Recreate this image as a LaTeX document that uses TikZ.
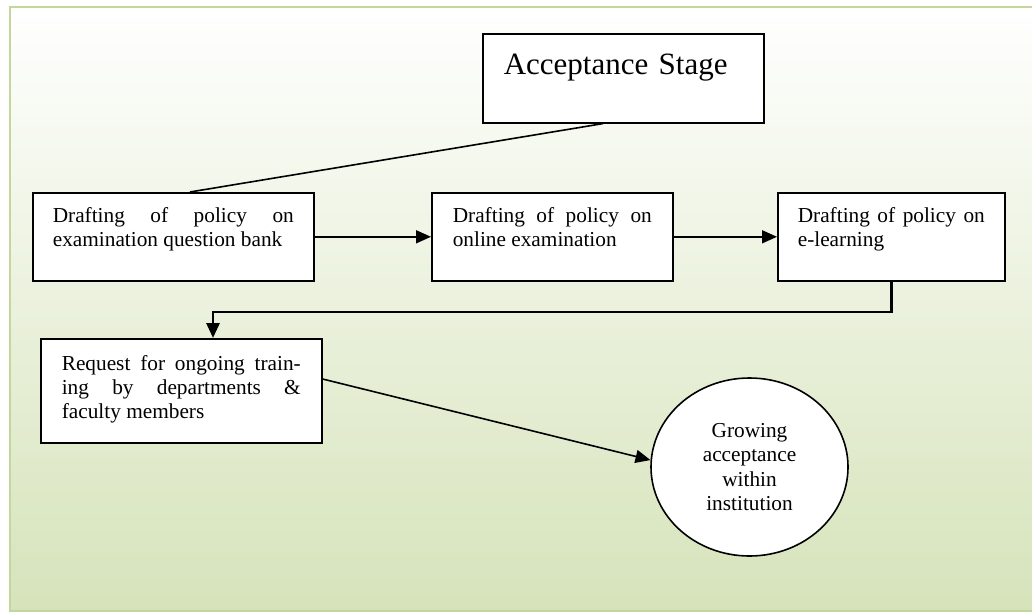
\documentclass[tikz,border=0pt]{standalone}
\usepackage{fontspec}
\setmainfont{Liberation Serif}
\usetikzlibrary{shapes.geometric,arrows.meta,calc}
\definecolor{bgbot}{RGB}{214,227,186}
\definecolor{framegreen}{RGB}{195,214,155}
\begin{document}
\begin{tikzpicture}[x=1pt,y=-1pt,
  box/.style={draw=black,line width=1.6pt,fill=white,anchor=north west,inner ysep=0pt,align=justify,font=\fontsize{21.3}{24}\selectfont},
  conn/.style={line width=1.6pt,-{Triangle[length=15pt,width=13pt]}},
]
\useasboundingbox (0,0) rectangle (1032,613);
\clip (0,0) rectangle (1032,613);
\shade[top color=white,bottom color=bgbot] (10,7) rectangle (1040,611);
\draw[framegreen,line width=2.5pt] (1040,7) -- (10,7) -- (10,611) -- (1040,611);

\node[box, align=left, font=\fontsize{31}{36}\selectfont, text width=239pt, inner xsep=21pt, text height=41pt, text depth=48pt] (acc) at (482,33) {Acceptance Stage};
\node[box, text width=241pt, inner xsep=20pt, text height=30pt, text depth=58pt] (b1) at (32,192) {Drafting of policy on\linebreak examination question bank};
\node[box, text width=199pt, inner xsep=21pt, text height=30pt, text depth=58pt] (b2) at (431,192) {Drafting of policy on\linebreak online examination};
\node[box, text width=187pt, inner xsep=20pt, text height=30pt, text depth=58pt] (b3) at (777,192) {Drafting of policy on e-learning};
\node[box, text width=239pt, inner xsep=21pt, text height=32pt, text depth=72pt] (b4) at (40,338) {Request for ongoing train-\linebreak ing by departments \&\linebreak faculty members};
\node[ellipse, draw=black, line width=1.6pt, fill=white, minimum width=197pt, minimum height=178pt, inner sep=0pt, align=center, font=\fontsize{21.3}{24.5}\selectfont] (g) at (749.5,467) {Growing\\acceptance\\within\\institution};

\draw[line width=1.6pt] ($(acc.south west)+(121,0)$) -- ($(b1.north west)+(158,0)$);
\draw[conn] (b1.east) -- (b2.west);
\draw[conn] (b2.east) -- (b3.west);
\coordinate (elb) at (213,312);
\draw[conn, line width=2.8pt] (b3.south) |- (elb) -- (elb |- b4.north);
\draw[conn] ($(b4.north east)+(0,41)$) -- (g.176);
\end{tikzpicture}
\end{document}
